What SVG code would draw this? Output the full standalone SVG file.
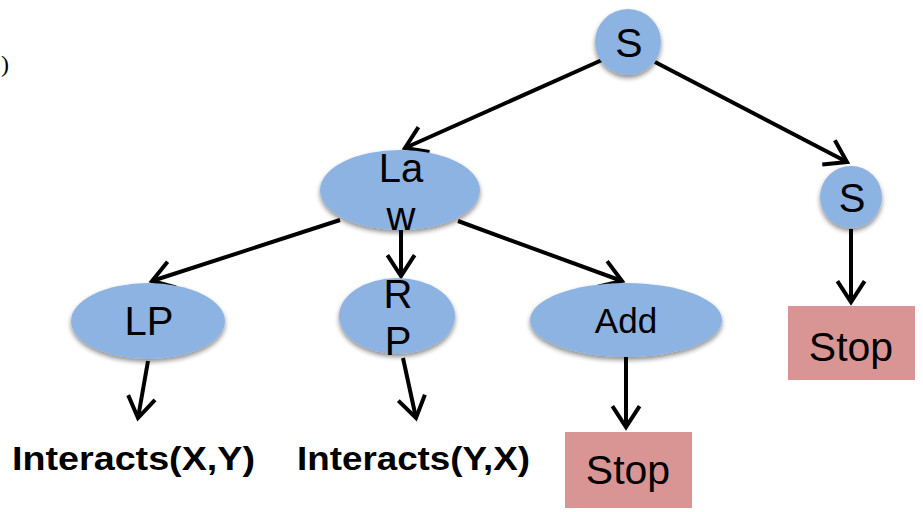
<svg xmlns="http://www.w3.org/2000/svg" width="923" height="512" viewBox="0 0 923 512">
<style>
.node{fill:#8DB3E2;filter:url(#sh)}
.stop{fill:#D99594}
.t{font-family:"Liberation Sans",Arial,sans-serif;fill:#000;text-anchor:middle}
.b{font-family:"Liberation Sans",Arial,sans-serif;font-weight:bold;fill:#000;font-size:34px}
.e{stroke:#000;stroke-width:4;fill:none;marker-end:url(#ah)}
</style>
<defs>
<filter id="sh" x="-20%" y="-20%" width="140%" height="150%">
<feGaussianBlur in="SourceAlpha" stdDeviation="2.5"/>
<feOffset dx="0" dy="3" result="o"/>
<feComponentTransfer><feFuncA type="linear" slope="0.45"/></feComponentTransfer>
<feMerge><feMergeNode/><feMergeNode in="SourceGraphic"/></feMerge>
</filter>
<marker id="ah" markerWidth="8" markerHeight="8" refX="6" refY="4" orient="auto" markerUnits="strokeWidth">
<path d="M0.8,0.6 L6,4 L0.8,7.4" fill="none" stroke="#000" stroke-width="1"/>
</marker>
</defs>
<text x="1" y="72" style="font-family:'Liberation Serif',serif;font-size:24px">)</text>
<g id="connectors">
<line class="e" x1="602" y1="60" x2="405" y2="148"/>
<line class="e" x1="655" y1="62" x2="847" y2="162"/>
<line class="e" x1="340" y1="220" x2="152" y2="281"/>
<line class="e" x1="401" y1="230" x2="401" y2="276"/>
<line class="e" x1="458" y1="221" x2="622" y2="281"/>
<line class="e" x1="851" y1="229" x2="851" y2="302"/>
<line class="e" x1="148" y1="361" x2="138" y2="418"/>
<line class="e" x1="403" y1="358" x2="416" y2="418"/>
<line class="e" x1="626" y1="357" x2="626" y2="427"/>
</g>
<g id="s-top">
<circle class="node" cx="628" cy="42" r="33"/>
<text class="t" x="629" y="57" style="font-size:41px">S</text>
</g>
<g id="law">
<ellipse class="node" cx="400" cy="190" rx="80" ry="40"/>
<text class="t" x="401" y="182" style="font-size:40px">La</text>
<text class="t" x="401" y="230" style="font-size:40px">w</text>
</g>
<g id="s-right">
<circle class="node" cx="851" cy="197" r="31"/>
<text class="t" x="852" y="212" style="font-size:40px">S</text>
</g>
<g id="lp">
<ellipse class="node" cx="148" cy="321" rx="77" ry="38"/>
<text class="t" x="149" y="335" style="font-size:40px">LP</text>
</g>
<g id="rp">
<ellipse class="node" cx="397" cy="316" rx="58" ry="38"/>
<text class="t" x="398" y="308" style="font-size:40px">R</text>
<text class="t" x="398" y="355" style="font-size:40px">P</text>
</g>
<g id="add">
<ellipse class="node" cx="626" cy="320" rx="96" ry="37"/>
<text class="t" x="626" y="333" style="font-size:35px">Add</text>
</g>
<g id="stop-right">
<rect class="stop" x="788" y="306" width="127" height="74"/>
<text class="t" x="851" y="361" style="font-size:41px">Stop</text>
</g>
<g id="stop-bottom">
<rect class="stop" x="565" y="432" width="127" height="76"/>
<text class="t" x="628" y="484" style="font-size:41px">Stop</text>
</g>
<g id="interacts-xy">
<text class="b" x="12" y="470" textLength="243" lengthAdjust="spacingAndGlyphs">Interacts(X,Y)</text>
</g>
<g id="interacts-yx">
<text class="b" x="297" y="470" textLength="233" lengthAdjust="spacingAndGlyphs">Interacts(Y,X)</text>
</g>
</svg>
